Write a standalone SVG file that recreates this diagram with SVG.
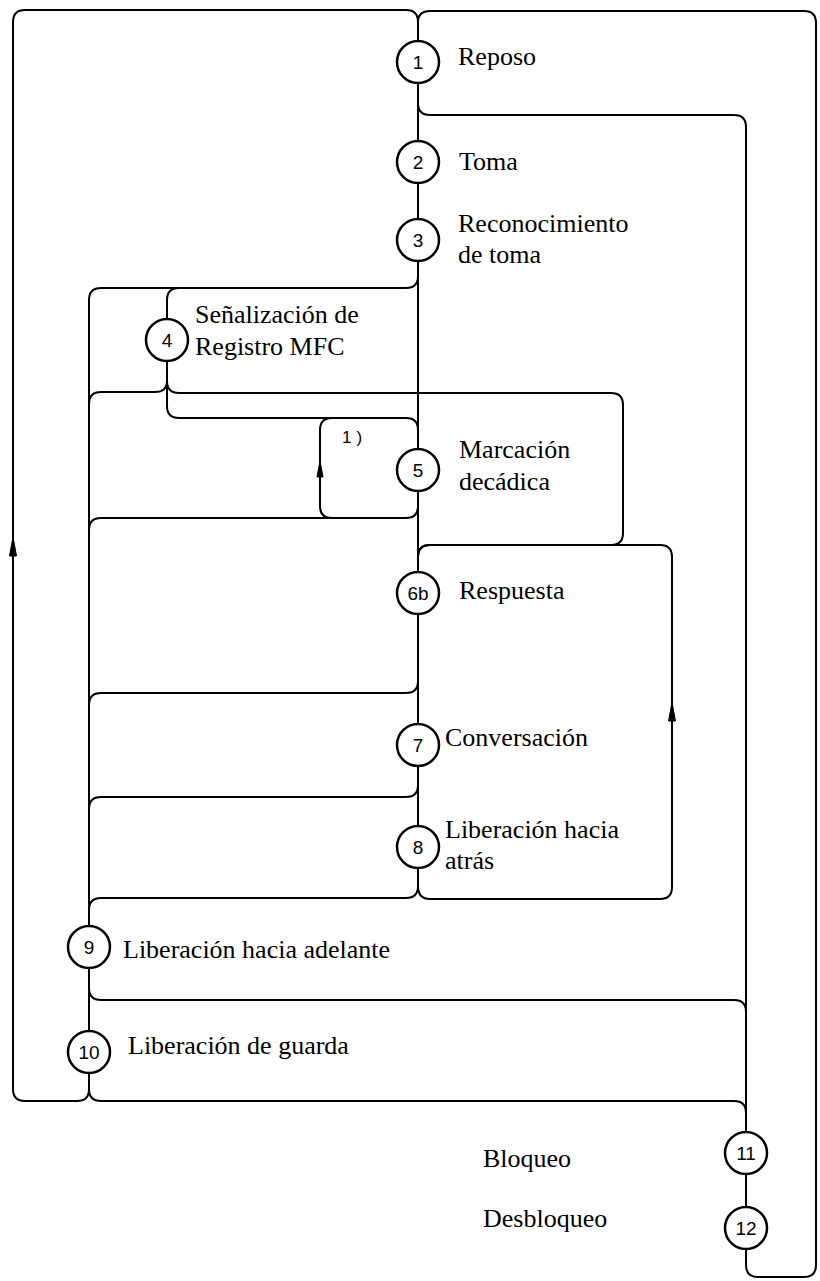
<svg xmlns="http://www.w3.org/2000/svg" width="820" height="1281" viewBox="0 0 820 1281">
<style>
.ln{fill:none;stroke:#000;stroke-width:2;stroke-linecap:round;stroke-linejoin:round}
.ah{fill:#000;stroke:#000;stroke-width:1}
.st circle{fill:#fff;stroke:#000;stroke-width:2.5}
.num{font-family:"Liberation Sans","DejaVu Sans",sans-serif;font-size:19px;text-anchor:middle;fill:#000}
.lbl{font-family:"Liberation Serif","Times New Roman","DejaVu Serif",serif;font-size:26px;fill:#000}
.note{font-family:"Liberation Sans","DejaVu Sans",sans-serif;font-size:17px;fill:#000;letter-spacing:5px}
</style>
<rect x="0" y="0" width="820" height="1281" fill="#fff"/>
<g id="connectors">
<path class="ln" d="M 89,1089 Q 89,1101 77,1101 H 25 Q 13,1101 13,1089 V 22 Q 13,10 25,10 H 406 Q 418,10 418,22 V 41"/>
<path class="ln" d="M 418,22 Q 418,11 430,11 H 804 Q 816,11 816,23 V 1265 Q 816,1277 804,1277 H 758 Q 746,1277 746,1265 V 1249"/>
<path class="ln" d="M 418,83 V 141 M 418,183 V 219 M 418,261 V 449 M 418,491 V 572 M 418,614 V 724 M 418,766 V 826 M 418,868 V 886"/>
<path class="ln" d="M 418,103 Q 418,115 430,115 H 734 Q 746,115 746,127 V 1132"/>
<path class="ln" d="M 746,1174 V 1207"/>
<path class="ln" d="M 418,276 Q 418,288 406,288 H 101 Q 89,288 89,300 V 926"/>
<path class="ln" d="M 179,288 Q 167,288 167,300 V 319"/>
<path class="ln" d="M 167,361 V 381 Q 167,392 155,392 H 101 Q 89,392 89,404"/>
<path class="ln" d="M 167,381 Q 167,393 179,393 H 611 Q 623,393 623,405 V 533 Q 623,545 611,545 H 430 Q 418,545 418,557"/>
<path class="ln" d="M 167,381 V 406 Q 167,418 179,418 H 406 Q 418,418 418,430"/>
<path class="ln" d="M 332,418 Q 320,418 320,430 V 506 Q 320,518 332,518"/>
<path class="ln" d="M 89,530 Q 89,518 101,518 H 406 Q 418,518 418,506"/>
<path class="ln" d="M 418,557 Q 418,545 430,545 H 660 Q 672,545 672,557 V 887 Q 672,899 660,899 H 430 Q 418,899 418,886"/>
<path class="ln" d="M 418,886 Q 418,898 406,898 H 101 Q 89,898 89,910"/>
<path class="ln" d="M 89,705 Q 89,693 101,693 H 406 Q 418,693 418,681"/>
<path class="ln" d="M 89,809 Q 89,797 101,797 H 406 Q 418,797 418,785"/>
<path class="ln" d="M 89,968 V 1031"/>
<path class="ln" d="M 89,988 Q 89,1000 101,1000 H 734 Q 746,1000 746,1012"/>
<path class="ln" d="M 89,1073 V 1089 Q 89,1101 101,1101 H 734 Q 746,1101 746,1113"/>
<polygon class="ah" points="13,537 9.5,556 16.5,556"/>
<polygon class="ah" points="320,461 317,477 323,477"/>
<polygon class="ah" points="672,702 668.5,721 675.5,721"/>
<text class="note" x="342" y="443">1)</text>
</g>
<g id="n1" class="st"><circle cx="418" cy="62" r="21"/><text class="num" x="418" y="69">1</text><text class="lbl" x="458" y="65">Reposo</text></g>
<g id="n2" class="st"><circle cx="418" cy="162" r="21"/><text class="num" x="418" y="169">2</text><text class="lbl" x="459" y="170">Toma</text></g>
<g id="n3" class="st"><circle cx="418" cy="240" r="21"/><text class="num" x="418" y="247">3</text><text class="lbl" x="458" y="232">Reconocimiento</text><text class="lbl" x="458" y="263">de toma</text></g>
<g id="n4" class="st"><circle cx="167" cy="340" r="21"/><text class="num" x="167" y="347">4</text><text class="lbl" x="195" y="323">Señalización de</text><text class="lbl" x="195" y="355">Registro MFC</text></g>
<g id="n5" class="st"><circle cx="418" cy="470" r="21"/><text class="num" x="418" y="477">5</text><text class="lbl" x="459" y="458">Marcación</text><text class="lbl" x="459" y="490">decádica</text></g>
<g id="n6b" class="st"><circle cx="418" cy="593" r="21"/><text class="num" x="418" y="600">6b</text><text class="lbl" x="459" y="599">Respuesta</text></g>
<g id="n7" class="st"><circle cx="418" cy="745" r="21"/><text class="num" x="418" y="752">7</text><text class="lbl" x="445" y="746">Conversación</text></g>
<g id="n8" class="st"><circle cx="418" cy="847" r="21"/><text class="num" x="418" y="854">8</text><text class="lbl" x="445" y="838">Liberación hacia</text><text class="lbl" x="445" y="869">atrás</text></g>
<g id="n9" class="st"><circle cx="89" cy="947" r="21"/><text class="num" x="89" y="954">9</text><text class="lbl" x="123" y="958">Liberación hacia adelante</text></g>
<g id="n10" class="st"><circle cx="89" cy="1052" r="21"/><text class="num" x="89" y="1059">10</text><text class="lbl" x="128" y="1054">Liberación de guarda</text></g>
<g id="n11" class="st"><circle cx="746" cy="1153" r="21"/><text class="num" x="746" y="1160">11</text><text class="lbl" x="483" y="1167">Bloqueo</text></g>
<g id="n12" class="st"><circle cx="746" cy="1228" r="21"/><text class="num" x="746" y="1235">12</text><text class="lbl" x="483" y="1227">Desbloqueo</text></g>
</svg>
